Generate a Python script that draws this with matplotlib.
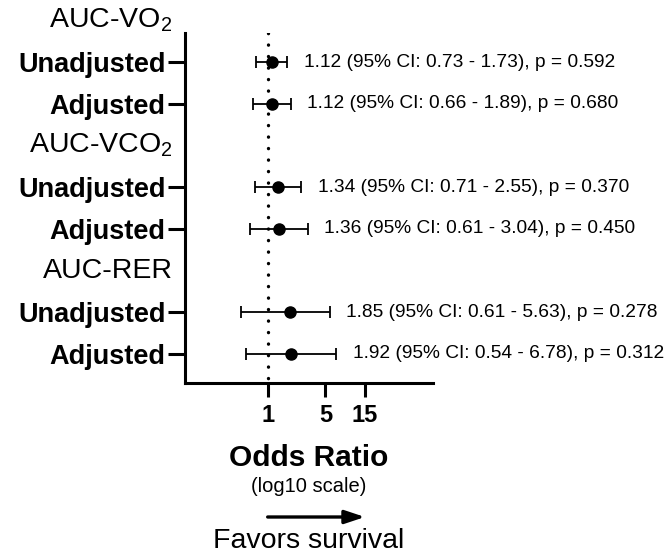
import matplotlib
matplotlib.use("Agg")
import matplotlib.pyplot as plt
import matplotlib.transforms as mtransforms

plt.rcParams['font.family'] = ['Liberation Sans', 'DejaVu Sans']
plt.rcParams['mathtext.fontset'] = 'custom'
plt.rcParams['mathtext.rm'] = 'Liberation Sans'
plt.rcParams['mathtext.it'] = 'Liberation Sans:italic'
plt.rcParams['mathtext.bf'] = 'Liberation Sans:bold'

# ---- data ----
headers = ["AUC-VO$_2$", "AUC-VCO$_2$", "AUC-RER"]
row_labels = ["Unadjusted", "Adjusted", "Unadjusted", "Adjusted", "Unadjusted", "Adjusted"]
odds_ratio = [1.12, 1.12, 1.34, 1.36, 1.85, 1.92]
ci_low = [0.73, 0.66, 0.71, 0.61, 0.48, 0.54]
ci_high = [1.73, 1.89, 2.55, 3.04, 5.63, 6.78]
annotations = [
    "1.12 (95% CI: 0.73 - 1.73), p = 0.592",
    "1.12 (95% CI: 0.66 - 1.89), p = 0.680",
    "1.34 (95% CI: 0.71 - 2.55), p = 0.370",
    "1.36 (95% CI: 0.61 - 3.04), p = 0.450",
    "1.85 (95% CI: 0.61 - 5.63), p = 0.278",
    "1.92 (95% CI: 0.54 - 6.78), p = 0.312",
]
xticks = [1, 5, 15]
xtick_labels = ["1", "5", "15"]

# row positions (0 = top)
header_rows = [0, 3, 6]
data_rows = [1, 2, 4, 5, 7, 8]

fig = plt.figure(figsize=(6.65, 5.56), dpi=100)
ax = fig.add_axes([185/665, 1 - 383/556, (433 - 185)/665, (383 - 33)/556])
ax.set_xscale('log')
ax.set_xlim(0.1, 100)
ax.set_ylim(8.7, 0.3)

# reference line
ax.plot([1, 1], [0.3, 8.7], color='black', linewidth=2.4,
        linestyle=(0, (0.05, 3.4)), dash_capstyle='round', zorder=1)

lower_err = [o - l for o, l in zip(odds_ratio, ci_low)]
upper_err = [h - o for o, h in zip(odds_ratio, ci_high)]
ax.errorbar(odds_ratio, data_rows, xerr=[lower_err, upper_err], fmt='o',
            color='black', markersize=8, elinewidth=1.3, capsize=4,
            capthick=1.3, zorder=3)

for r, h, txt in zip(data_rows, ci_high, annotations):
    ax.annotate(txt, xy=(h, r), xytext=(12, 0), textcoords='offset points',
                ha='left', va='center', fontsize=13.8, color='black')

# y tick labels
ax.set_yticks(data_rows)
ax.set_yticklabels(row_labels, fontsize=19.5, fontweight='bold')
ax.tick_params(axis='y', length=12, width=2.2, pad=2)

# headers
for r, h in zip(header_rows, headers):
    ax.annotate(h, xy=(0, r), xycoords=('axes fraction', 'data'),
                xytext=(-9, 0), textcoords='offset points',
                ha='right', va='center', fontsize=20.5, annotation_clip=False)

# x axis
ax.xaxis.set_major_locator(matplotlib.ticker.FixedLocator(xticks))
ax.xaxis.set_minor_locator(matplotlib.ticker.NullLocator())
ax.set_xticklabels(xtick_labels, fontsize=17, fontweight='bold')
ax.tick_params(axis='x', length=10, width=2.2, pad=5)

for s in ['top', 'right']:
    ax.spines[s].set_visible(False)
for s in ['left', 'bottom']:
    ax.spines[s].set_linewidth(2.2)

# x labels below
trans = mtransforms.blended_transform_factory(ax.transAxes, fig.transFigure)
ax.text(0.5, 1 - 458/556, "Odds Ratio", transform=trans, ha='center', va='center',
        fontsize=21.5, fontweight='bold')
ax.text(0.5, 1 - 486/556, "(log10 scale)", transform=trans, ha='center', va='center',
        fontsize=14.5)
transd = mtransforms.blended_transform_factory(ax.transData, fig.transFigure)
ax.annotate("", xy=(15, 1 - 517/556), xytext=(1, 1 - 517/556),
            xycoords=transd, textcoords=transd, annotation_clip=False,
            arrowprops=dict(arrowstyle='-|>,head_length=1.2,head_width=0.4',
                            color='black', linewidth=2.4, shrinkA=0, shrinkB=0))
ax.text(0.5, 1 - 541/556, "Favors survival", transform=trans, ha='center', va='center',
        fontsize=20.5)

fig.savefig("out.png", dpi=100)
